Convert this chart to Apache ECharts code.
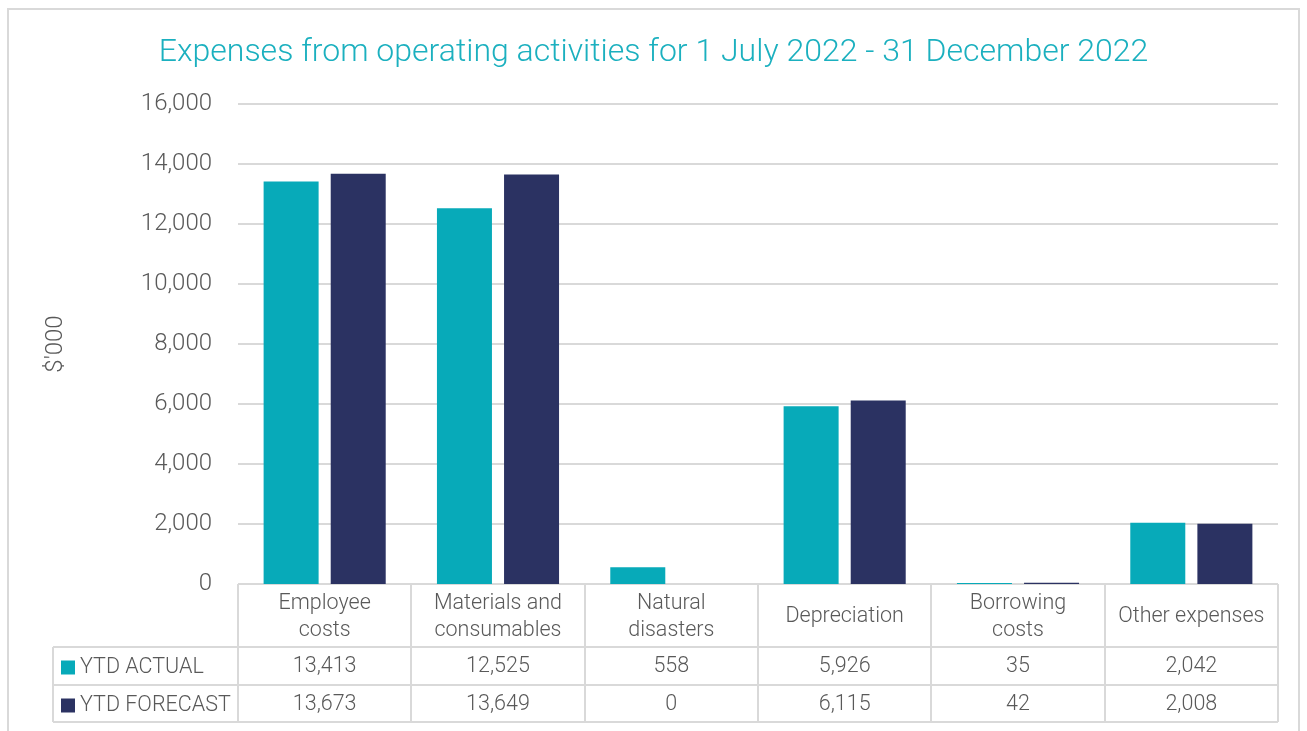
<!DOCTYPE html>
<html><head><meta charset="utf-8">
<script src="https://cdn.jsdelivr.net/npm/echarts@6/dist/echarts.min.js"></script>
<style>html,body{margin:0;padding:0;background:#fff}#c{width:1307px;height:731px}</style>
</head><body><div id="c"></div>
<script>
const categories = ['Employee\ncosts','Materials and\nconsumables','Natural\ndisasters','Depreciation','Borrowing\ncosts','Other expenses'];
const seriesNames = ['YTD ACTUAL','YTD FORECAST'];
const actual = [13413,12525,558,5926,35,2042];
const forecast = [13673,13649,0,6115,42,2008];
const yTicks = [0,2000,4000,6000,8000,10000,12000,14000,16000];

const colors = ['#07aab9','#2b3262'];
const textColor = '#595959';
const lineColor = '#d9d9d9';
const font = 'Roboto';
const G = {left:238, right:1278, top:104, bottom:584};
const rows = [584, 647, 685, 722];
const tableLeft = 53;

const fmt = v => v.toLocaleString('en-US');
const chart = echarts.init(document.getElementById('c'));
const catW = (G.right - G.left) / categories.length;
const graphic = [];
// outer border
graphic.push({type:'rect', shape:{x:8,y:9,width:1291,height:740}, style:{fill:null, stroke:lineColor, lineWidth:2}, silent:true});
// table lines: horizontal
graphic.push({type:'line', shape:{x1:G.left,y1:rows[0],x2:G.right,y2:rows[0]}, style:{stroke:lineColor,lineWidth:2}});
for (let i=1;i<rows.length;i++) graphic.push({type:'line', shape:{x1:tableLeft,y1:rows[i],x2:G.right,y2:rows[i]}, style:{stroke:lineColor,lineWidth:2}});
// vertical
graphic.push({type:'line', shape:{x1:tableLeft,y1:rows[1],x2:tableLeft,y2:rows[3]}, style:{stroke:lineColor,lineWidth:2}});
for (let i=0;i<=categories.length;i++){
  const x = Math.round(G.left + i*catW);
  graphic.push({type:'line', shape:{x1:x,y1:rows[0],x2:x,y2:rows[3]}, style:{stroke:lineColor,lineWidth:2}});
}
// values
[actual, forecast].forEach((arr, r) => {
  arr.forEach((v, i) => {
    graphic.push({type:'text', x: G.left + (i+0.5)*catW, y:(rows[r+1]+rows[r+2])/2 + 1,
      style:{text:fmt(v), fill:textColor, font:'300 21.5px Roboto', align:'center', verticalAlign:'middle'}});
  });
});

chart.setOption({
  animation:false,
  title:{text:'Expenses from operating activities for 1 July 2022 - 31 December 2022', left:'center', top:32,
    textStyle:{color:'#1bb0bf', fontFamily:font, fontWeight:300, fontSize:32}},
  legend:{orient:'vertical', left:56, top:650, itemWidth:14, itemHeight:14, itemGap:13, icon:'rect',
    textStyle:{color:textColor, fontFamily:font, fontWeight:300, fontSize:21.5, lineHeight:25}, data:seriesNames},
  grid:{left:G.left, right:1307-G.right, top:G.top, bottom:731-G.bottom, containLabel:false},
  xAxis:{type:'category', data:categories, axisLine:{show:false}, axisTick:{show:false},
    axisLabel:{interval:0, margin:33, verticalAlign:'middle', color:textColor, fontFamily:font, fontWeight:300, fontSize:21.5, lineHeight:27}},
  yAxis:{type:'value', min:0, max:16000, interval:2000, name:"$'000", nameLocation:'middle', nameGap:170,
    nameTextStyle:{color:textColor, fontFamily:font, fontWeight:300, fontSize:24},
    axisLabel:{margin:26, color:textColor, fontFamily:font, fontWeight:300, fontSize:24, formatter:v=>fmt(v)},
    splitLine:{lineStyle:{color:lineColor, width:2}}},
  series:[
    {name:seriesNames[0], type:'bar', data:actual, barWidth:55, barGap:'22%', itemStyle:{color:colors[0]}},
    {name:seriesNames[1], type:'bar', data:forecast, barWidth:55, barGap:'22%', itemStyle:{color:colors[1]}}
  ],
  graphic: graphic
});
</script></body></html>
